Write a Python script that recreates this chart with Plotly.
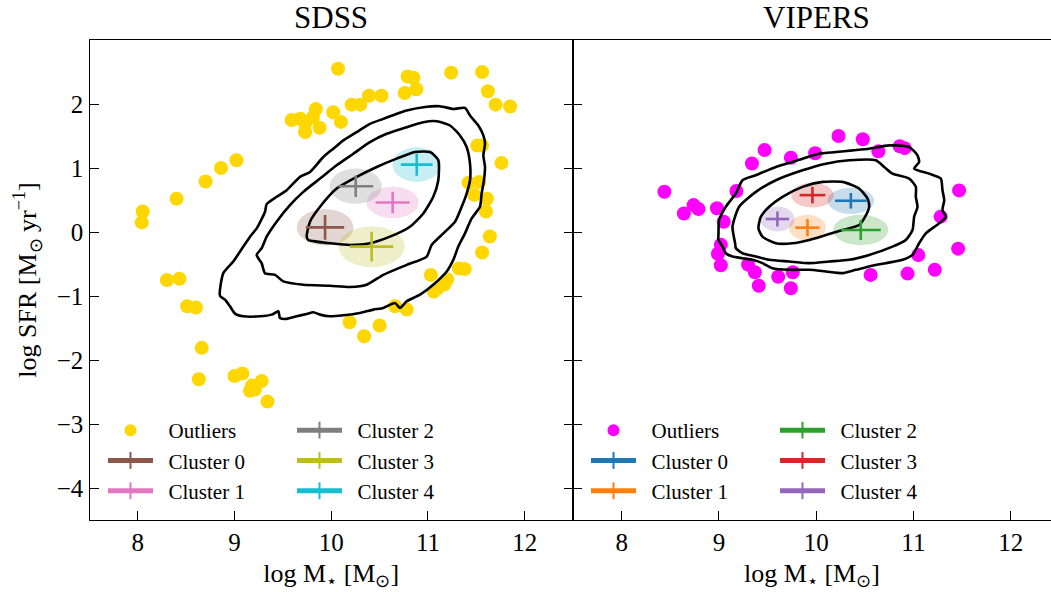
import plotly.graph_objects as go

# ---------------- SDSS ----------------
sdss_out_x = [10.07, 11.24, 11.56, 11.62, 11.70, 11.85, 10.79, 10.85, 10.88, 10.76, 10.52, 10.39,
              10.30, 10.21, 10.10, 10.02, 9.84, 9.81, 9.88, 9.73, 9.73, 9.59, 9.68, 11.51, 11.56,
              11.76, 11.42, 11.53, 11.48, 11.61, 11.60, 11.64, 11.56, 11.32, 11.38, 11.03, 11.20,
              11.17, 11.10, 11.06, 10.66, 10.78, 10.19, 10.50, 10.34, 9.02, 8.86, 8.70, 8.40,
              8.05, 8.04, 8.30, 8.43, 8.51, 8.60, 8.66, 8.63, 9.00, 9.08, 9.18, 9.16, 9.28, 9.21, 9.34]
sdss_out_y = [2.55, 2.49, 2.50, 2.20, 1.99, 1.96, 2.43, 2.41, 2.23, 2.17, 2.13, 2.13,
              1.99, 1.99, 1.72, 1.87, 1.92, 1.79, 1.63, 1.56, 1.69, 1.75, 1.77, 1.35, 1.35,
              1.08, 0.77, 0.78, 0.58, 0.52, 0.32, -0.07, -0.32, -0.57, -0.58, -0.67, -0.74,
              -0.82, -0.88, -0.93, -1.16, -1.21, -1.41, -1.46, -1.63, 1.12, 1.00, 0.79, 0.52,
              0.32, 0.15, -0.75, -0.73, -1.16, -1.18, -1.81, -2.30, -2.25, -2.21, -2.40, -2.48, -2.33, -2.46, -2.65]

sdss_c68_x = [9.746, 9.780, 9.884, 10.056, 10.263, 10.470, 10.676, 10.866, 11.021, 11.107, 11.107,
              11.055, 10.952, 10.814, 10.607, 10.400, 10.194, 9.987, 9.849, 9.763, 9.746]
sdss_c68_y = [-0.073, 0.161, 0.394, 0.679, 0.861, 1.016, 1.146, 1.249, 1.249, 1.120, 0.809,
              0.550, 0.290, 0.083, -0.073, -0.176, -0.202, -0.176, -0.150, -0.124, -0.073]
sdss_c95_x = [9.229, 9.280, 9.332, 9.435, 9.573, 9.711, 9.884, 10.056, 10.228, 10.400, 10.573,
              10.780, 10.952, 11.090, 11.228, 11.331, 11.400, 11.435, 11.435, 11.400, 11.349,
              11.280, 11.159, 11.038, 10.987, 10.780, 10.538, 10.366, 10.194, 9.987, 9.711,
              9.504, 9.418, 9.315, 9.280, 9.229]
sdss_c95_y = [-0.358, -0.254, -0.073, 0.161, 0.420, 0.627, 0.835, 1.042, 1.223, 1.405, 1.534,
              1.638, 1.716, 1.731, 1.664, 1.509, 1.327, 1.068, 0.809, 0.601, 0.394,
              0.161, -0.021, -0.202, -0.384, -0.513, -0.669, -0.824, -0.860, -0.840, -0.824,
              -0.772, -0.669, -0.643, -0.487, -0.358]
sdss_c99_x = [8.849, 8.884, 8.987, 9.091, 9.160, 9.229, 9.315, 9.332, 9.435, 9.539, 9.677, 9.780,
              9.918, 10.021, 10.125, 10.263, 10.400, 10.538, 10.780, 10.952, 11.124, 11.262,
              11.383, 11.435, 11.521, 11.573, 11.590, 11.573, 11.590, 11.579, 11.555, 11.538,
              11.452, 11.383, 11.314, 11.262, 11.194, 11.055, 10.918, 10.780, 10.711, 10.659,
              10.538, 10.435, 10.297, 10.125, 9.987, 9.884, 9.815, 9.746, 9.642, 9.539, 9.470,
              9.453, 9.384, 9.263, 9.091, 9.005, 8.953, 8.901, 8.849]
sdss_c99_y = [-0.995, -0.643, -0.461, -0.228, -0.073, 0.057, 0.316, 0.436, 0.550, 0.653, 0.861, 0.938,
              1.172, 1.301, 1.431, 1.560, 1.690, 1.768, 1.897, 1.949, 1.965, 1.923,
              1.939, 1.820, 1.664, 1.509, 1.379, 1.198, 1.016, 0.809, 0.601, 0.394,
              0.213, -0.021, -0.228, -0.435, -0.617, -0.824, -0.980, -1.083, -1.187, -1.109,
              -1.187, -1.213, -1.265, -1.301, -1.317, -1.291, -1.255, -1.280, -1.317, -1.358, -1.343,
              -1.239, -1.291, -1.317, -1.317, -1.275, -1.161, -1.057, -0.995]

sdss_clusters = ["Cluster 0", "Cluster 1", "Cluster 2", "Cluster 3", "Cluster 4"]
sdss_cx = [9.936, 10.635, 10.253, 10.418, 10.884]
sdss_cy = [0.073, 0.462, 0.716, -0.228, 1.053]
sdss_ex = [0.198, 0.176, 0.181, 0.224, 0.164]
sdss_ey = [0.194, 0.168, 0.168, 0.233, 0.174]
sdss_sx = [0.293, 0.270, 0.270, 0.341, 0.250]
sdss_sy = [0.283, 0.246, 0.275, 0.319, 0.270]
sdss_colors = ["#8c564b", "#e377c2", "#7f7f7f", "#bcbd22", "#17becf"]

# ---------------- VIPERS ----------------
vip_out_x = [8.44, 8.64, 8.74, 8.79, 8.98, 9.05, 9.02, 8.99, 9.02, 9.30, 9.37, 9.41, 9.61, 9.76,
             9.74, 9.18, 9.34, 9.47, 9.74, 9.99, 10.23, 10.48, 10.64, 10.86, 10.91, 11.47, 11.28,
             11.46, 11.05, 11.22, 10.94, 10.56]
vip_out_y = [0.63, 0.29, 0.42, 0.36, 0.37, 0.16, -0.20, -0.34, -0.52, -0.51, -0.63, -0.84, -0.70, -0.63,
             -0.88, 0.64, 1.07, 1.28, 1.16, 1.23, 1.50, 1.45, 1.26, 1.34, 1.31, 0.65, 0.24,
             -0.26, -0.36, -0.59, -0.65, -0.67]

vip_c68_x = [9.407, 9.448, 9.586, 9.757, 9.928, 10.100, 10.271, 10.442, 10.494, 10.545, 10.528,
             10.442, 10.271, 10.065, 9.860, 9.654, 9.517, 9.431, 9.407]
vip_c68_y = [0.057, -0.072, -0.176, -0.176, -0.124, -0.047, 0.031, 0.109, 0.213, 0.394, 0.524,
             0.679, 0.783, 0.783, 0.705, 0.550, 0.394, 0.239, 0.057]
vip_c95_x = [9.167, 9.140, 9.208, 9.380, 9.586, 9.860, 10.100, 10.340, 10.614, 10.700, 10.785,
             10.957, 11.025, 11.025, 11.042, 11.008, 10.991, 10.922, 10.785, 10.545, 10.340,
             10.134, 9.928, 9.723, 9.517, 9.380, 9.243, 9.175, 9.167]
vip_c95_y = [-0.176, 0.083, 0.394, 0.627, 0.809, 0.964, 1.068, 1.120, 1.120, 1.016, 0.912,
             0.835, 0.705, 0.550, 0.394, 0.239, 0.031, -0.124, -0.228, -0.358, -0.435,
             -0.461, -0.487, -0.461, -0.435, -0.384, -0.332, -0.254, -0.176]
vip_c99_x = [8.996, 9.003, 9.071, 9.174, 9.243, 9.380, 9.586, 9.860, 10.031, 10.203, 10.374,
             10.545, 10.751, 10.957, 11.042, 11.059, 11.008, 11.162, 11.282, 11.299, 11.317,
             11.299, 11.334, 11.265, 11.128, 11.059, 10.991, 10.888, 10.717, 10.545, 10.408,
             10.271, 10.100, 9.928, 9.723, 9.551, 9.448, 9.346, 9.243, 9.140, 9.071, 9.037,
             8.996, 8.996]
vip_c99_y = [-0.021, 0.187, 0.394, 0.601, 0.809, 0.887, 1.016, 1.146, 1.224, 1.249, 1.275,
             1.301, 1.353, 1.327, 1.198, 1.094, 0.990, 0.912, 0.835, 0.653, 0.498,
             0.342, 0.239, 0.135, -0.021, -0.176, -0.358, -0.435, -0.487, -0.539, -0.591,
             -0.643, -0.617, -0.591, -0.591, -0.565, -0.487, -0.435, -0.410, -0.384, -0.332, -0.228,
             -0.124, -0.021]

vip_clusters = ["Cluster 0", "Cluster 1", "Cluster 2", "Cluster 3", "Cluster 4"]
vip_cx = [10.357, 9.911, 10.459, 9.962, 9.602]
vip_cy = [0.488, 0.068, 0.032, 0.576, 0.203]
vip_ex = [0.163, 0.125, 0.205, 0.132, 0.120]
vip_ey = [0.122, 0.135, 0.156, 0.130, 0.117]
vip_sx = [0.240, 0.189, 0.283, 0.218, 0.177]
vip_sy = [0.205, 0.202, 0.238, 0.194, 0.194]
vip_colors = ["#1f77b4", "#ff7f0e", "#2ca02c", "#d62728", "#9467bd"]

FONT = "Liberation Serif, Times New Roman, serif"
W, H = 1051, 592
X_L0, X_MID = 89.5 / W, 573 / W
Y_BOT, Y_TOP = 1 - 520 / H, 1 - 40 / H
PAD = "\u00a0\u00a0"  # extra gap between legend glyph and label


def rgba(hex_color, a):
    h = hex_color.lstrip("#")
    r, g, b = int(h[0:2], 16), int(h[2:4], 16), int(h[4:6], 16)
    return f"rgba({r},{g},{b},{a})"


fig = go.Figure()
shapes = []


def add_panel(xa, ya, out_x, out_y, out_color, contours, names, cx, cy, ex, ey, sx, sy, colors,
              legs):
    # outliers
    fig.add_trace(go.Scatter(x=out_x, y=out_y, mode="markers", xaxis=xa, yaxis=ya,
                             marker=dict(size=14, color=out_color, line=dict(width=0)),
                             name=PAD + "Outliers", legend=legs[0], showlegend=True))
    # density contours
    for cxs, cys in contours:
        fig.add_trace(go.Scatter(x=cxs, y=cys, mode="lines", xaxis=xa, yaxis=ya,
                                 line=dict(color="black", width=2.6, shape="spline", smoothing=0.6),
                                 showlegend=False, hoverinfo="skip"))
    # cluster dispersion ellipses
    for i in range(len(names)):
        shapes.append(dict(type="circle", xref=xa, yref=ya, layer="below",
                           x0=cx[i] - sx[i], x1=cx[i] + sx[i],
                           y0=cy[i] - sy[i], y1=cy[i] + sy[i],
                           fillcolor=rgba(colors[i], 0.25), line=dict(width=0)))
    # cluster centres with error bars
    for i in range(len(names)):
        fig.add_trace(go.Scatter(x=[cx[i]], y=[cy[i]], mode="markers", xaxis=xa, yaxis=ya,
                                 marker=dict(size=1, color="rgba(0,0,0,0)"),
                                 error_x=dict(type="data", array=[ex[i]], width=0,
                                              thickness=2.6, color=colors[i]),
                                 error_y=dict(type="data", array=[ey[i]], width=0,
                                              thickness=2.6, color=colors[i]),
                                 showlegend=False, hoverinfo="skip"))
    # legend entries (cross glyphs)
    for i in range(len(names)):
        leg = legs[0] if i < 2 else legs[1]
        fig.add_trace(go.Scatter(x=[None], y=[None], mode="lines+markers", xaxis=xa, yaxis=ya,
                                 line=dict(color=colors[i], width=2.6),
                                 marker=dict(symbol="line-ns", size=22,
                                             line=dict(color=colors[i], width=2.6)),
                                 name=PAD + names[i], legend=leg, showlegend=True))


add_panel("x", "y", sdss_out_x, sdss_out_y, "#FFD700",
          [(sdss_c99_x, sdss_c99_y), (sdss_c95_x, sdss_c95_y), (sdss_c68_x, sdss_c68_y)],
          sdss_clusters, sdss_cx, sdss_cy, sdss_ex, sdss_ey, sdss_sx, sdss_sy, sdss_colors,
          ["legend", "legend2"])
add_panel("x2", "y2", vip_out_x, vip_out_y, "#FF00FF",
          [(vip_c99_x, vip_c99_y), (vip_c95_x, vip_c95_y), (vip_c68_x, vip_c68_y)],
          vip_clusters, vip_cx, vip_cy, vip_ex, vip_ey, vip_sx, vip_sy, vip_colors,
          ["legend3", "legend4"])

axis_common = dict(ticks="inside", ticklen=9, tickwidth=1.3, tickcolor="black",
                   showline=True, linecolor="black", linewidth=1.3, showgrid=False,
                   zeroline=False, tickfont=dict(family=FONT, size=25, color="black"))

xt = dict(tickmode="array", tickvals=[8, 9, 10, 11, 12])
yt = dict(tickmode="array", tickvals=[-4, -3, -2, -1, 0, 1, 2])

xtitle = dict(text="log M<sub>⋆</sub> [M<sub>⊙</sub>]", font=dict(family=FONT, size=26, color="black"),
              standoff=8)

leg_common = dict(font=dict(family=FONT, size=21, color="black"), bgcolor="rgba(0,0,0,0)",
                  borderwidth=0, tracegroupgap=0, orientation="v", xanchor="left",
                  yanchor="top", itemsizing="constant", itemwidth=45)
leg_top = 1 - 410 / H

fig.update_layout(
    width=W, height=H, margin=dict(l=0, r=0, t=0, b=0),
    paper_bgcolor="white", plot_bgcolor="white",
    xaxis=dict(domain=[X_L0, X_MID], range=[7.5, 12.5], mirror=True, anchor="y",
               title=xtitle, **xt, **axis_common),
    yaxis=dict(domain=[Y_BOT, Y_TOP], range=[-4.5, 3.0], mirror="ticks", anchor="x",
               title=dict(text="log SFR [M<sub>⊙</sub> yr<sup>−1</sup>]",
                          font=dict(family=FONT, size=26, color="black"), standoff=12),
               **yt, **axis_common),
    xaxis2=dict(domain=[X_MID, 1.0], range=[7.5, 12.415], mirror=True, anchor="y2",
                title=xtitle, **xt, **axis_common),
    yaxis2=dict(domain=[Y_BOT, Y_TOP], range=[-4.5, 3.0], anchor="x2", showticklabels=False,
                **yt, **axis_common),
    legend=dict(x=103 / W, y=leg_top, **leg_common),
    legend2=dict(x=292 / W, y=leg_top, **leg_common),
    legend3=dict(x=586 / W, y=leg_top, **leg_common),
    legend4=dict(x=775 / W, y=leg_top, **leg_common),
    shapes=shapes,
    annotations=[
        dict(text="SDSS", xref="paper", yref="paper", x=(X_L0 + X_MID) / 2, y=1 - 18 / H,
             xanchor="center", yanchor="middle", showarrow=False,
             font=dict(family=FONT, size=31, color="black")),
        dict(text="VIPERS", xref="x2", yref="paper", x=10.0, y=1 - 18 / H,
             xanchor="center", yanchor="middle", showarrow=False,
             font=dict(family=FONT, size=31, color="black")),
    ],
)

fig.write_html("out.html")
